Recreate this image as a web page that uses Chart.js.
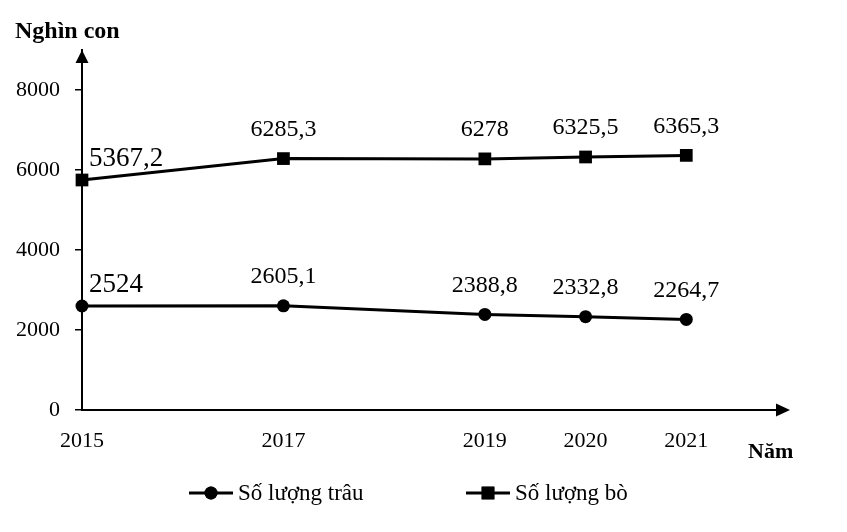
<!DOCTYPE html>
<html>
<head>
<meta charset="utf-8">
<script src="https://cdn.jsdelivr.net/npm/chart.js@4/dist/chart.umd.min.js"></script>
<style>
  html, body { margin: 0; padding: 0; background: #fff; }
  #wrap { width: 847px; height: 532px; position: relative; }
</style>
</head>
<body>
<div id="wrap"><canvas id="chart"></canvas></div>
<script>
// Data
const years = [2015, 2017, 2019, 2020, 2021];
const trau = [2600, 2605.1, 2388.8, 2332.8, 2264.7];
const bo = [5750, 6285.3, 6278, 6325.5, 6365.3];
const trauLabels = ['2524', '2605,1', '2388,8', '2332,8', '2264,7'];
const boLabels = ['5367,2', '6285,3', '6278', '6325,5', '6365,3'];
const yTicks = [0, 2000, 4000, 6000, 8000];

const serif = '"Liberation Serif", "Times New Roman", serif';

// value labels above each point
const valueLabels = {
    id: 'valueLabels',
    afterDatasetsDraw(chart) {
        const ctx = chart.ctx;
        ctx.save();
        ctx.fillStyle = '#000';
        ctx.textBaseline = 'middle';
        chart.data.datasets.forEach((ds, di) => {
            const meta = chart.getDatasetMeta(di);
            meta.data.forEach((pt, i) => {
                if (i === 0) {
                    ctx.font = '27px ' + serif;
                    ctx.textAlign = 'left';
                    ctx.fillText(ds.valueText[i], pt.x + 7, pt.y - 21);
                } else {
                    ctx.font = '24px ' + serif;
                    ctx.textAlign = 'center';
                    ctx.fillText(ds.valueText[i], pt.x, pt.y - 29);
                }
            });
        });
        ctx.restore();
    }
};

// axis arrows, axis names and the legend
const decorations = {
    id: 'decorations',
    afterDraw(chart) {
        const ctx = chart.ctx;
        const area = chart.chartArea;
        ctx.save();
        ctx.fillStyle = '#000';

        // y arrow
        ctx.beginPath();
        ctx.moveTo(area.left, area.top);
        ctx.lineTo(area.left - 6.5, area.top + 13);
        ctx.lineTo(area.left + 6.5, area.top + 13);
        ctx.closePath();
        ctx.fill();

        // x arrow
        ctx.beginPath();
        ctx.moveTo(area.right + 3, area.bottom);
        ctx.lineTo(area.right - 11, area.bottom - 6.5);
        ctx.lineTo(area.right - 11, area.bottom + 6.5);
        ctx.closePath();
        ctx.fill();

        ctx.textBaseline = 'middle';
        ctx.textAlign = 'left';
        ctx.font = 'bold 24px ' + serif;
        ctx.fillText('Nghìn con', 15, 32);
        ctx.font = 'bold 22px ' + serif;
        ctx.fillText('Năm', 748, 452);

        // legend
        const items = [
            { x: 189, ds: chart.data.datasets[0] },
            { x: 466, ds: chart.data.datasets[1] }
        ];
        ctx.font = '23px ' + serif;
        items.forEach(it => {
            const y = 493;
            ctx.strokeStyle = '#000';
            ctx.lineWidth = 3;
            ctx.beginPath();
            ctx.moveTo(it.x, y);
            ctx.lineTo(it.x + 44, y);
            ctx.stroke();
            Chart.helpers.drawPoint(ctx, {
                pointStyle: it.ds.pointStyle,
                radius: it.ds.pointRadius,
                borderWidth: 0
            }, it.x + 22, y);
            ctx.fill();
            ctx.fillText(it.ds.label, it.x + 49, y + 1);
        });
        ctx.restore();
    }
};

const config = {
    type: 'line',
    data: {
        datasets: [{
            label: 'Số lượng trâu',
            data: years.map((yr, i) => ({ x: yr, y: trau[i] })),
            valueText: trauLabels,
            borderColor: '#000',
            backgroundColor: '#000',
            borderWidth: 3,
            pointStyle: 'circle',
            pointRadius: 6.5,
            pointBackgroundColor: '#000',
            pointBorderWidth: 0,
            tension: 0,
            clip: false
        }, {
            label: 'Số lượng bò',
            data: years.map((yr, i) => ({ x: yr, y: bo[i] })),
            valueText: boLabels,
            borderColor: '#000',
            backgroundColor: '#000',
            borderWidth: 3,
            pointStyle: 'rect',
            pointRadius: 9,
            pointBackgroundColor: '#000',
            pointBorderWidth: 0,
            tension: 0,
            clip: false
        }]
    },
    options: {
        responsive: true,
        maintainAspectRatio: false,
        animation: false,
        layout: { padding: { top: 50, right: 60, left: 0, bottom: 0 } },
        plugins: {
            legend: { display: false },
            tooltip: { enabled: false }
        },
        scales: {
            x: {
                type: 'linear',
                min: 2015,
                max: 2022,
                afterBuildTicks: s => { s.ticks = years.map(v => ({ value: v })); },
                afterFit: s => { s.height = 122; },
                grid: { display: false, drawTicks: false },
                border: { display: true, color: '#000', width: 2 },
                ticks: {
                    color: '#000',
                    font: { family: serif, size: 22 },
                    padding: 18,
                    maxRotation: 0,
                    autoSkip: false,
                    callback: v => String(v)
                }
            },
            y: {
                min: 0,
                max: 9000,
                afterBuildTicks: s => { s.ticks = yTicks.map(v => ({ value: v })); },
                afterFit: s => { s.width = 82; },
                grid: { drawOnChartArea: false, drawTicks: true, tickLength: 7, color: '#000', lineWidth: 1.5 },
                border: { display: true, color: '#000', width: 2 },
                ticks: {
                    color: '#000',
                    font: { family: serif, size: 22 },
                    padding: 15,
                    callback: v => String(v)
                }
            }
        }
    },
    plugins: [valueLabels, decorations]
};

const chart = new Chart(document.getElementById('chart'), config);
</script>
</body>
</html>
